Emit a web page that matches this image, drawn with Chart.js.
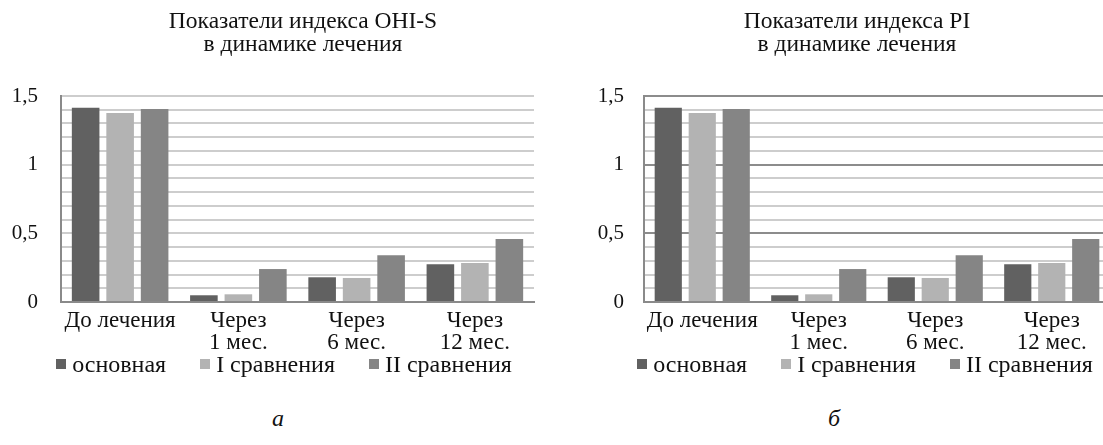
<!DOCTYPE html>
<html>
<head>
<meta charset="utf-8">
<script src="https://cdn.jsdelivr.net/npm/chart.js@4.4.1/dist/chart.umd.min.js"></script>
<style>
    html, body { margin: 0; padding: 0; background: #fff; }
    body {
        width: 1103px; height: 445px; position: relative; overflow: hidden;
        font-family: "Liberation Serif", "Tinos", "Times New Roman", "DejaVu Serif", serif; color: #111;
    }
    .box { position: absolute; top: 0; width: 560px; height: 400px; }
    .title {
        position: absolute; top: 9px; width: 560px; text-align: center;
        font-size: 23.5px; line-height: 23px;
    }
    .legend {
        position: absolute; top: 352px; width: 560px;
        display: flex; justify-content: center;
        font-size: 24px; line-height: 24px;
    }
    .legend .item { display: flex; align-items: center; margin: 0 17px; }
    .legend i { display: inline-block; width: 10px; height: 10px; margin-right: 6px; }
    .caption {
        position: absolute; top: 406px; width: 40px; text-align: center;
        font-style: italic; font-size: 24px; line-height: 24px;
    }
</style>
</head>
<body>
    <div class="box" style="left: 0;"><canvas id="ohiChart"></canvas></div>
    <div class="title" style="left: 23px;">Показатели индекса OHI-S<br>в динамике лечения</div>
    <div class="legend" id="ohiLegend" style="left: 4px;"></div>
    <div class="caption" style="left: 258px;">а</div>

    <div class="box" style="left: 560px;"><canvas id="piChart"></canvas></div>
    <div class="title" style="left: 577px;">Показатели индекса PI<br>в динамике лечения</div>
    <div class="legend" id="piLegend" style="left: 585px;"></div>
    <div class="caption" style="left: 814px;">б</div>

<script>
// Chart data
const categories = [['До лечения'], ['Через', '1 мес.'], ['Через', '6 мес.'], ['Через', '12 мес.']];
const seriesNames = ['основная', 'I сравнения', 'II сравнения'];
const seriesColors = ['#616161', '#b3b3b3', '#858585'];

const ohiMain = [1.415, 0.049, 0.18, 0.274];
const ohiComp1 = [1.376, 0.056, 0.175, 0.284];
const ohiComp2 = [1.405, 0.24, 0.34, 0.459];

const piMain = [1.415, 0.049, 0.18, 0.274];
const piComp1 = [1.376, 0.056, 0.175, 0.284];
const piComp2 = [1.405, 0.24, 0.34, 0.459];

const yLabelValues = [0, 0.5, 1, 1.5];
const yLabelTexts = ['0', '0,5', '1', '1,5'];

const serif = '"Liberation Serif", "Tinos", "Times New Roman", "DejaVu Serif", serif';

function labelIndex(v) {
    return yLabelValues.findIndex(t => Math.abs(t - v) < 1e-6);
}

function makeChart(canvasId, series, opts) {
    return new Chart(document.getElementById(canvasId).getContext('2d'), {
        type: 'bar',
        data: {
            labels: categories,
            datasets: series.map((values, i) => ({
                label: seriesNames[i],
                data: values,
                backgroundColor: seriesColors[i],
                borderWidth: 0,
                categoryPercentage: 0.875,
                barPercentage: 0.8,
            }))
        },
        options: {
            responsive: true,
            maintainAspectRatio: false,
            animation: false,
            layout: { padding: { top: 96, right: opts.padRight, bottom: 38, left: 0 } },
            plugins: {
                legend: { display: false },
                tooltip: { enabled: false },
            },
            scales: {
                x: {
                    grid: { display: false, drawTicks: false },
                    border: { display: true, color: '#8a8a8a', width: 2 },
                    ticks: {
                        color: '#111',
                        font: { family: serif, size: 23, lineHeight: 0.96 },
                        padding: 8,
                        maxRotation: 0,
                        autoSkip: false,
                    },
                    // labels are clipped to the axis box, so keep it tall enough for two lines
                    afterFit: scale => { scale.height = 60; },
                },
                y: {
                    min: 0,
                    max: 1.5,
                    grid: {
                        drawTicks: false,
                        lineWidth: 2,
                        color: ctx => (opts.darkMajor && labelIndex(ctx.tick.value) >= 0) ? '#8c8c8c' : '#cdcdcd',
                    },
                    border: { display: true, color: '#8a8a8a', width: 2 },
                    ticks: {
                        stepSize: 0.1,
                        autoSkip: false,
                        color: '#111',
                        padding: opts.tickPad,
                        font: { family: serif, size: 21 },
                        callback: value => {
                            let i = labelIndex(value);
                            return i >= 0 ? yLabelTexts[i] : '';
                        }
                    },
                    afterFit: scale => { scale.width = opts.yWidth; },
                }
            }
        }
    });
}

// Legend built from the same series names and colours
function buildLegend(elementId) {
    let el = document.getElementById(elementId);
    seriesNames.forEach((name, i) => {
        let item = document.createElement('span');
        item.className = 'item';
        let sw = document.createElement('i');
        sw.style.background = seriesColors[i];
        item.appendChild(sw);
        item.appendChild(document.createTextNode(name));
        el.appendChild(item);
    });
}

makeChart('ohiChart', [ohiMain, ohiComp1, ohiComp2], { yWidth: 61, padRight: 26, tickPad: 23, darkMajor: false });
makeChart('piChart', [piMain, piComp1, piComp2], { yWidth: 84, padRight: 10, tickPad: 20, darkMajor: true });
buildLegend('ohiLegend');
buildLegend('piLegend');
</script>
</body>
</html>
